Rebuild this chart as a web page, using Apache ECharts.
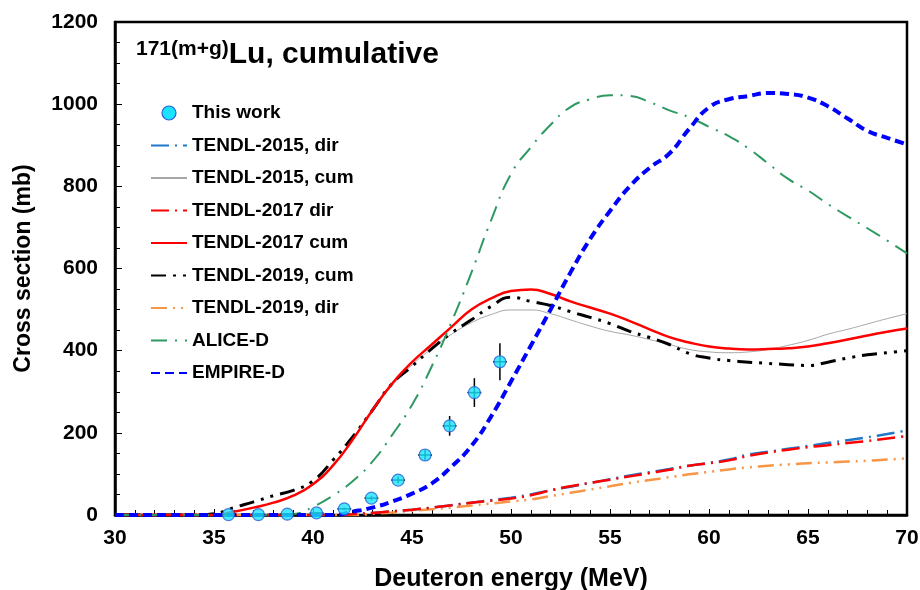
<!DOCTYPE html>
<html>
<head>
<meta charset="utf-8">
<script src="https://cdn.jsdelivr.net/npm/echarts@6/dist/echarts.min.js"></script>
<style>html,body{margin:0;padding:0;background:#fff}#c{width:920px;height:590px}</style>
</head>
<body>
<div id="c"></div>
<script>
// ---- Data ----
var energy = [30,31,32,33,34,35,36,37,38,39,40,41,42,43,44,45,46,47,48,49,50,51,52,53,54,55,56,57,58,59,60,61,62,63,64,65,66,67,68,69,70];

var tendl2015dir = [0,0,0,0,0,0,0,0,0,0,0,0,2,5,9,13,18,24,30,36,42,50,60,69,78,87,96,104,112,120,127,135,147,154,161,168,175,182,189,197,206];
var tendl2015cum = [0,0,0,0,0,0,8,18,30,47,75,120,183,252,315,365,405,440,468,488,499,499,490,475,460,447,438,427,415,403,397,395,397,403,413,425,440,452,465,478,490];
var tendl2017dir = [0,0,0,0,0,0,0,0,0,0,0,0,2,5,9,13,18,24,30,35,40,48,60,70,78,86,94,102,110,120,126,133,144,152,159,165,170,175,180,186,192];
var tendl2017cum = [0,0,0,0,0,0,8,18,30,47,75,120,183,255,320,372,415,458,500,527,545,549,538,520,505,490,472,452,433,420,410,405,403,404,406,410,418,427,437,446,454];
var tendl2019cum = [0,0,0,0,0,3,18,32,47,60,83,133,190,255,320,362,405,443,475,508,530,520,510,495,481,466,447,432,415,393,382,376,372,369,366,364,372,382,390,395,400];
var tendl2019dir = [0,0,0,0,0,0,0,0,0,0,0,0,0,3,6,10,14,18,23,28,33,38,46,54,62,70,78,85,92,99,105,111,116,120,123,126,128,130,132,135,138];
var aliceD = [0,0,0,0,0,0,0,0,0,2,20,47,82,130,195,268,362,470,590,718,830,895,950,993,1012,1022,1020,1005,985,968,945,922,892,855,818,790,757,727,698,668,637];
var empireD = [0,0,0,0,0,0,0,0,0,0,0,0,8,18,33,52,77,118,168,240,325,412,500,590,672,740,800,845,880,940,992,1012,1020,1027,1025,1016,995,965,935,918,902];

var expE    = [35.73,37.24,38.70,40.18,41.58,42.95,44.30,45.66,46.90,48.15,49.44];
var expCS   = [1,1,2,5,15,41,85,146,217,298,373];
var expErr  = [1,1,1,2,3,5,8,14,24,35,45];
var expEErr = [0.35,0.35,0.35,0.35,0.35,0.35,0.35,0.35,0.35,0.35,0.35];

var xTicks = [30,35,40,45,50,55,60,65,70];
var yTicks = [0,200,400,600,800,1000,1200];

function pairs(ys){ return energy.map(function(e,i){ return [e, ys[i]]; }); }

var FONT = 'Liberation Sans, Arial, sans-serif';
var chart = echarts.init(document.getElementById('c'), null, {renderer:'canvas'});

function lineSeries(name, data, color, width, type, z){
  return {
    name: name, type: 'line', data: pairs(data), symbol: 'none', showSymbol: false,
    smooth: 0.5, z: z || 2,
    lineStyle: {color: color, width: width, type: type},
    itemStyle: {color: color}
  };
}

var option = {
  animation: false,
  backgroundColor: '#fff',
  title: {
    text: '{sup|171(m+g)}{main|Lu, cumulative}',
    left: 131, top: 34,
    textStyle: {
      rich: {
        sup: {fontSize: 21, fontWeight: 'bold', fontFamily: FONT, color: '#000', verticalAlign: 'top', lineHeight: 32, padding: [0,0,14,0]},
        main: {fontSize: 30, fontWeight: 'bold', fontFamily: FONT, color: '#000', lineHeight: 32}
      }
    }
  },
  grid: {left: 115, right: 13, top: 22, bottom: 75, containLabel: false, outerBoundsMode: 'none', show: true, borderColor: '#000', borderWidth: 2.5, backgroundColor: 'transparent'},
  legend: {
    orient: 'vertical', left: 145, top: 98,
    itemWidth: 36, itemHeight: 14, itemGap: 12.5,
    itemStyle: {opacity: 0},
    textStyle: {fontSize: 19, fontWeight: 'bold', fontFamily: FONT, color: '#000', lineHeight: 20},
    data: [
      {name: 'This work', icon: 'circle', itemStyle: {opacity: 1, color: '#19e3ff', borderColor: '#2a5fd6', borderWidth: 1.2}},
      'TENDL-2015, dir','TENDL-2015, cum','TENDL-2017 dir','TENDL-2017 cum',
      'TENDL-2019, cum','TENDL-2019, dir','ALICE-D','EMPIRE-D'
    ]
  },
  xAxis: {
    type: 'value', min: xTicks[0], max: xTicks[xTicks.length-1], interval: 5,
    name: 'Deuteron energy (MeV)', nameLocation: 'middle', nameGap: 52,
    nameTextStyle: {fontSize: 25, fontWeight: 'bold', fontFamily: FONT, color: '#000'},
    axisLine: {show: true, onZero: false, lineStyle: {color: '#000', width: 2.5}},
    axisTick: {show: true, inside: true, length: 6, lineStyle: {color: '#000', width: 1}},
    minorTick: {show: true, splitNumber: 5, length: 5, lineStyle: {color: '#000', width: 1}},
    axisLabel: {fontSize: 21, fontWeight: 'bold', fontFamily: FONT, color: '#000', margin: 13, formatter: function(v){ return String(v); }},
    splitLine: {show: false}
  },
  yAxis: {
    type: 'value', min: yTicks[0], max: yTicks[yTicks.length-1], interval: 200,
    name: 'Cross section (mb)', nameLocation: 'middle', nameGap: 80, nameRotate: 90,
    nameTextStyle: {fontSize: 23, fontWeight: 'bold', fontFamily: FONT, color: '#000'},
    axisLine: {show: true, onZero: false, lineStyle: {color: '#000', width: 2.5}},
    axisTick: {show: true, inside: true, length: 7, lineStyle: {color: '#000', width: 1}},
    minorTick: {show: true, splitNumber: 4, length: 5, lineStyle: {color: '#000', width: 1}},
    axisLabel: {fontSize: 21, fontWeight: 'bold', fontFamily: FONT, color: '#000', margin: 17, formatter: function(v){ return String(v); }},
    splitLine: {show: false}
  },
  series: [
    lineSeries('TENDL-2015, cum', tendl2015cum, '#a6a6a6', 1, 'solid', 2),
    lineSeries('TENDL-2015, dir', tendl2015dir, '#1f78c8', 2.5, [18,6,2,6], 3),
    lineSeries('TENDL-2019, dir', tendl2019dir, '#f79646', 2.5, [16,6,2,6,2,6], 3),
    lineSeries('TENDL-2017 dir', tendl2017dir, '#ff0000', 2.5, [18,6,2,6], 4),
    lineSeries('TENDL-2019, cum', tendl2019cum, '#000000', 3, [15,7,3,7,3,7], 4),
    lineSeries('TENDL-2017 cum', tendl2017cum, '#ff0000', 2.5, 'solid', 5),
    lineSeries('ALICE-D', aliceD, '#2e9a62', 2, [16,8,2,8], 5),
    lineSeries('EMPIRE-D', empireD, '#0000ff', 4, [9,5], 6),
    {
      name: 'errorbars', type: 'custom', z: 8, silent: true,
      data: expE.map(function(e,i){ return [e, expCS[i], expErr[i], expEErr[i]]; }),
      renderItem: function(params, api){
        var x = api.value(0), y = api.value(1), dy = api.value(2), dx = api.value(3);
        var top = api.coord([x, y + dy]), bot = api.coord([x, Math.max(0, y - dy)]);
        var l = api.coord([x - dx, y]), r = api.coord([x + dx, y]);
        var st = {stroke: '#000', lineWidth: 1.5};
        return {type: 'group', children: [
          {type: 'line', shape: {x1: top[0], y1: top[1], x2: bot[0], y2: bot[1]}, style: st},
          {type: 'line', shape: {x1: l[0], y1: l[1], x2: r[0], y2: r[1]}, style: st}
        ]};
      }
    },
    {
      name: 'This work', type: 'scatter', z: 10,
      data: expE.map(function(e,i){ return [e, expCS[i]]; }),
      symbol: 'circle', symbolSize: 12,
      itemStyle: {color: '#19e3ff', borderColor: '#2a5fd6', borderWidth: 1.2}
    }
  ]
};
chart.setOption(option);
</script>
</body>
</html>
